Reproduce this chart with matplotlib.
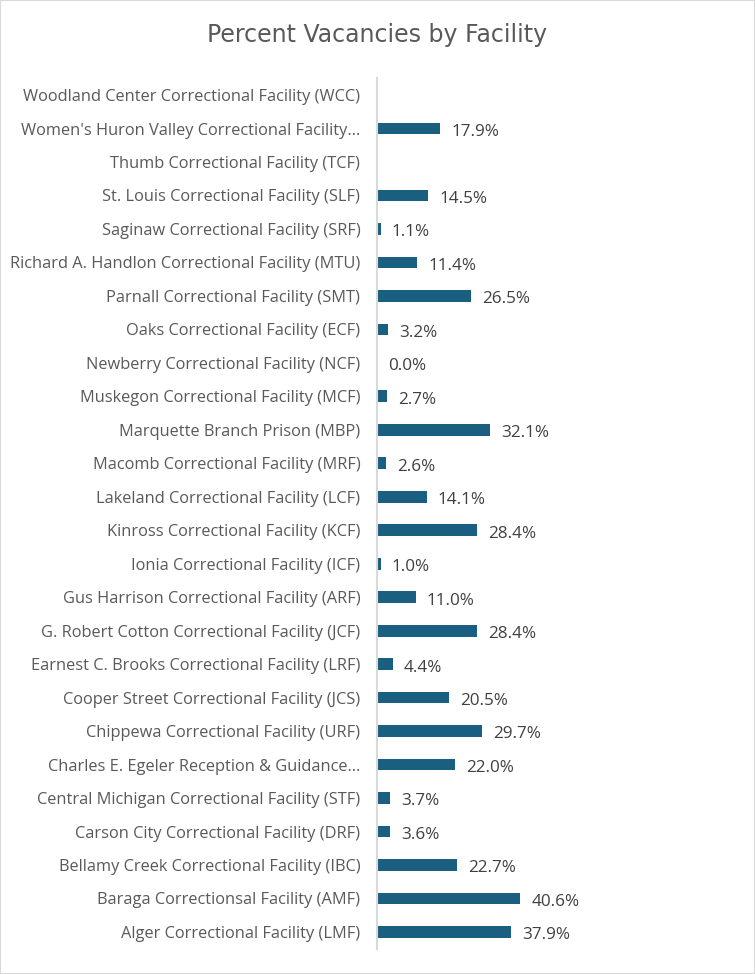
import matplotlib
matplotlib.use("Agg")
import matplotlib.pyplot as plt
from matplotlib.patches import Rectangle
import numpy as np

facilities = [
    "Alger Correctional Facility (LMF)",
    "Baraga Correctionsal Facility (AMF)",
    "Bellamy Creek Correctional Facility (IBC)",
    "Carson City Correctional Facility (DRF)",
    "Central Michigan Correctional Facility (STF)",
    "Charles E. Egeler Reception & Guidance\u2026",
    "Chippewa Correctional Facility (URF)",
    "Cooper Street Correctional Facility (JCS)",
    "Earnest C. Brooks Correctional Facility (LRF)",
    "G. Robert Cotton Correctional Facility (JCF)",
    "Gus Harrison Correctional Facility (ARF)",
    "Ionia Correctional Facility (ICF)",
    "Kinross Correctional Facility (KCF)",
    "Lakeland Correctional Facility (LCF)",
    "Macomb Correctional Facility (MRF)",
    "Marquette Branch Prison (MBP)",
    "Muskegon Correctional Facility (MCF)",
    "Newberry Correctional Facility (NCF)",
    "Oaks Correctional Facility (ECF)",
    "Parnall Correctional Facility (SMT)",
    "Richard A. Handlon Correctional Facility (MTU)",
    "Saginaw Correctional Facility (SRF)",
    "St. Louis Correctional Facility (SLF)",
    "Thumb Correctional Facility (TCF)",
    "Women's Huron Valley Correctional Facility\u2026",
    "Woodland Center Correctional Facility (WCC)",
]
vacancy_pct = [37.9, 40.6, 22.7, 3.6, 3.7, 22.0, 29.7, 20.5, 4.4, 28.4, 11.0, 1.0,
               28.4, 14.1, 2.6, 32.1, 2.7, 0.0, 3.2, 26.5, 11.4, 1.1, 14.5,
               None, 17.9, None]

BAR = "#1a5f7f"
LABEL = "#595959"
DATA = "#404040"
FONT = ["Open Sans", "DejaVu Sans"]

fig = plt.figure(figsize=(7.55, 9.74), dpi=100)
fig.patches.append(Rectangle((0, 0), 1, 1, transform=fig.transFigure, fill=False,
                             edgecolor="#d9d9d9", linewidth=1.5))
ax = fig.add_axes([377 / 755, 1 - 948.7 / 974, 353 / 755, (948.7 - 78.3) / 974])

y = np.arange(len(facilities))
vals = [v if v is not None else 0 for v in vacancy_pct]
bars = ax.barh(y, vals, height=0.35, color=BAR, zorder=2)
for yi, v in zip(y, vacancy_pct):
    if v is None:
        continue
    ax.annotate(f"{v:.1f}%", xy=(v, yi), xytext=(8, -1), textcoords="offset points",
                ha="left", va="center_baseline", fontsize=12.3, color=DATA, family=FONT)

ax.set_xlim(0, 100)
ax.set_ylim(-0.5, len(facilities) - 0.5)
ax.set_yticks(y)
ax.set_yticklabels(facilities, fontsize=11.75, color=LABEL, family=FONT)
ax.tick_params(axis="y", length=0, pad=12)
ax.set_xticks([])
for s in ["top", "right", "bottom"]:
    ax.spines[s].set_visible(False)
ax.spines["left"].set_color("#d9d9d9")
ax.spines["left"].set_linewidth(1.5)

fig.text(0.5, 1 - 35 / 974, "Percent Vacancies by Facility", ha="center", va="center",
         fontsize=17, color=LABEL, family=["Liberation Sans Narrow", "DejaVu Sans"])

fig.savefig("out.png", dpi=100)
